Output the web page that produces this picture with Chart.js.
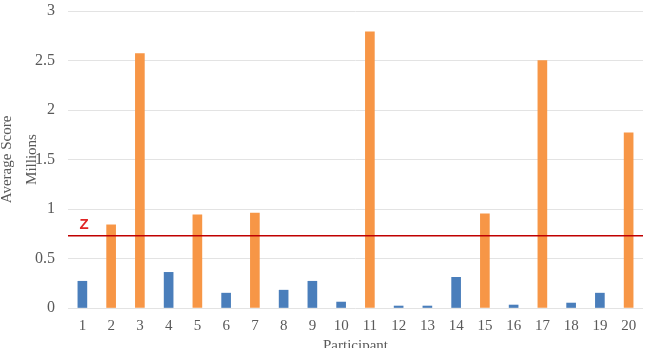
<!DOCTYPE html>
<html>
<head>
<meta charset="utf-8">
<script src="https://cdn.jsdelivr.net/npm/chart.js@4/dist/chart.umd.min.js"></script>
<style>
  html, body { margin: 0; padding: 0; background: #fff; overflow: hidden; }
  #wrap { width: 647px; height: 358px; position: relative; }
</style>
</head>
<body>
<div id="wrap"><canvas id="chart"></canvas></div>
<script>
// participants 1..20
const participants = ['1','2','3','4','5','6','7','8','9','10','11','12','13','14','15','16','17','18','19','20'];
// average score in millions, below-threshold group (blue)
const lowScores = [0.27, null, null, 0.36, null, 0.15, null, 0.18, 0.27, 0.06, null, 0.02, 0.02, 0.31, null, 0.03, null, 0.05, 0.15, null];
// above-threshold group (orange)
const highScores = [null, 0.84, 2.57, null, 0.94, null, 0.96, null, null, null, 2.79, null, null, null, 0.95, null, 2.50, null, null, 1.77];
const thresholdValue = 0.73;
const thresholdLabel = 'Z';
const yTicks = [0, 0.5, 1, 1.5, 2, 2.5, 3];

const serif = '"Liberation Serif", "Times New Roman", serif';

// draws the red Z line across the plot
const thresholdLine = {
    id: 'thresholdLine',
    afterDatasetsDraw(chart) {
        const ctx = chart.ctx;
        const area = chart.chartArea;
        const y = chart.scales.y.getPixelForValue(thresholdValue);
        ctx.save();
        ctx.strokeStyle = '#c00000';
        ctx.lineWidth = 1.5;
        ctx.beginPath();
        ctx.moveTo(area.left, y);
        ctx.lineTo(area.right, y);
        ctx.stroke();
        ctx.fillStyle = '#e02424';
        ctx.font = 'bold 15px "Liberation Sans", Arial, sans-serif';
        ctx.textAlign = 'center';
        ctx.textBaseline = 'bottom';
        ctx.fillText(thresholdLabel, area.left + 16, y - 3);
        ctx.restore();
    }
};

new Chart(document.getElementById('chart'), {
    type: 'bar',
    data: {
        labels: participants,
        datasets: [{
            data: lowScores,
            backgroundColor: '#4a7ebb',
            barThickness: 9
        }, {
            data: highScores,
            backgroundColor: '#f79646',
            barThickness: 9
        }]
    },
    options: {
        responsive: true,
        maintainAspectRatio: false,
        animation: false,
        layout: { padding: { top: 11, right: 4, left: 0, bottom: 0 } },
        plugins: {
            legend: { display: false },
            tooltip: { enabled: false }
        },
        scales: {
            x: {
                stacked: true,
                afterFit(scale) { scale.height = 50; },
                grid: { display: false },
                border: { display: false },
                ticks: { color: '#595959', font: { family: serif, size: 15 }, padding: 1 },
                title: {
                    display: true,
                    text: 'Participant',
                    color: '#595959',
                    font: { family: serif, size: 15 },
                    padding: { top: 0, bottom: 3 }
                }
            },
            y: {
                stacked: true,
                min: 0,
                max: 3,
                afterBuildTicks(scale) {
                    scale.ticks = yTicks.map(v => ({ value: v }));
                },
                afterFit(scale) {
                    scale.width = 68;
                    // keep tick label padding from pushing the plot down
                    scale.paddingTop = 0;
                    scale.paddingBottom = 0;
                },
                grid: { color: '#e3e3e3', drawTicks: false },
                border: { display: false },
                ticks: {
                    color: '#595959',
                    font: { family: serif, size: 16 },
                    padding: 13,
                    callback: v => String(v)
                },
                title: {
                    display: true,
                    text: ['Average Score', 'Millions'],
                    color: '#595959',
                    font: { family: serif, size: 15, lineHeight: 1.7 },
                    padding: { top: -6, bottom: 0 }
                }
            }
        }
    },
    plugins: [thresholdLine]
});
</script>
</body>
</html>
